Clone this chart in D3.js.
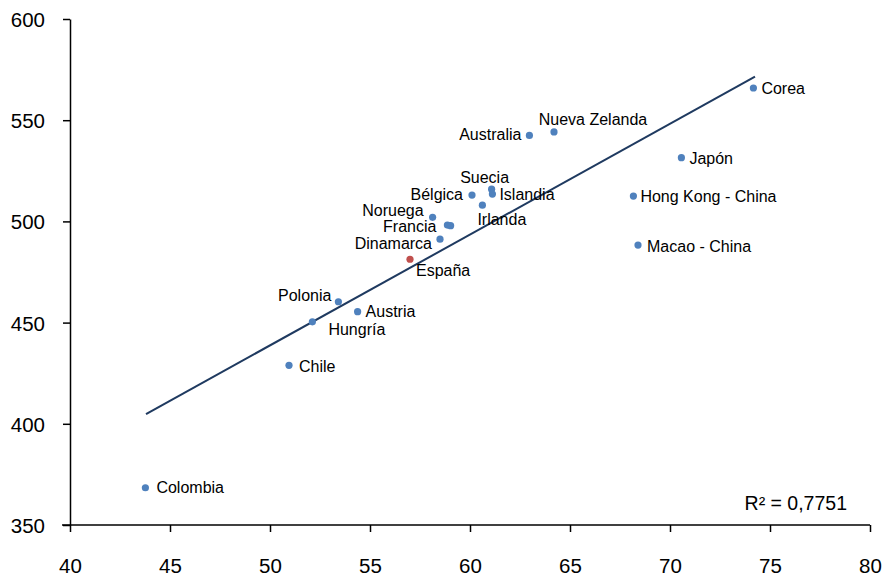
<!DOCTYPE html>
<html><head><meta charset="utf-8">
<script src="https://cdn.jsdelivr.net/npm/d3@7"></script>
<style>body{margin:0;background:#fff}svg{display:block}</style>
</head><body><svg id="c" width="887" height="580"></svg>
<script>
const countries = ["Colombia","Chile","Hungría","Polonia","Austria","España","Dinamarca","Francia","","Noruega","Bélgica","Irlanda","Suecia","Islandia","Australia","Nueva Zelanda","Macao - China","Hong Kong - China","Japón","Corea"];
const xValues = [43.77,50.95,52.12,53.42,54.38,57.0,58.5,58.87,59.03,58.13,60.1,60.62,61.08,61.12,62.97,64.2,68.4,68.17,70.57,74.17];
const yValues = [368.4,428.9,450.4,460.3,455.4,481.3,491.2,498.2,497.9,502.0,513.0,508.0,515.9,513.5,542.5,544.2,488.3,512.5,531.5,565.9];
const highlight = ["España"];
const trendX = [43.8,74.25];
const trendY = [404.8,571.5];
const xTicks = [40,45,50,55,60,65,70,75,80];
const yTicks = [350,400,450,500,550,600];
const r2Label = "R² = 0,7751";

// label placement (pixel offsets from the point), kept apart from data
const placement = {
  "Colombia":[11,0,"start"],"Chile":[10,1,"start"],"Hungría":[16,8,"start"],
  "Polonia":[-7,-6,"end"],"Austria":[8,0,"start"],"España":[6,11,"start"],
  "Dinamarca":[-8,4,"end"],"Francia":[-11,1,"end"],"Noruega":[-9,-7,"end"],
  "Bélgica":[-9,-1,"end"],"Irlanda":[-5,14,"start"],"Suecia":[-7,-12,"middle"],
  "Islandia":[7,0,"start"],"Australia":[-8,-1,"end"],"Nueva Zelanda":[39,-12,"middle"],
  "Macao - China":[9,1,"start"],"Hong Kong - China":[7,0,"start"],"Japón":[8,1,"start"],
  "Corea":[8,0,"start"]
};

const svg = d3.select("#c");
const x = d3.scaleLinear().domain([40,80]).range([70,870]);
const y = d3.scaleLinear().domain([350,600]).range([525,19]);
const font = "'Liberation Sans', Arial, sans-serif";

// axes
const xAxis = d3.axisBottom(x).tickValues(xTicks).tickSize(7).tickSizeOuter(0);
const yAxis = d3.axisLeft(y).tickValues(yTicks).tickSize(7).tickSizeOuter(0).tickPadding(18);
const gx = svg.append("g").attr("transform","translate(0,525)").call(xAxis);
const gy = svg.append("g").attr("transform","translate(70,0)").call(yAxis);
[gx,gy].forEach(g=>{
  g.selectAll("path.domain").attr("stroke","#000").attr("stroke-width",1.5);
  g.selectAll(".tick line").attr("stroke","#000").attr("stroke-width",1.5);
  g.selectAll(".tick text").attr("font-family",font).attr("font-size","20.5px").attr("fill","#000");
});
gx.select("path.domain").attr("d","M62,0H870");
gx.selectAll(".tick text").attr("y",40).attr("dy",null).attr("dominant-baseline","central");
gy.selectAll(".tick text").attr("dy",null).attr("dominant-baseline","central");

// trendline
svg.append("line")
  .attr("x1",x(trendX[0])).attr("y1",y(trendY[0]))
  .attr("x2",x(trendX[1])).attr("y2",y(trendY[1]))
  .attr("stroke","#1f3a60").attr("stroke-width",2);

// points
const pts = countries.map((c,i)=>({c,x:xValues[i],y:yValues[i]}));
svg.append("g").selectAll("circle").data(pts).join("circle")
  .attr("cx",d=>x(d.x)).attr("cy",d=>y(d.y)).attr("r",3.6)
  .attr("fill",d=>highlight.includes(d.c)?"#c0504d":"#4f81bd");

// labels
svg.append("g").selectAll("text").data(pts.filter(d=>d.c)).join("text")
  .attr("x",d=>x(d.x)+placement[d.c][0])
  .attr("y",d=>y(d.y)+placement[d.c][1])
  .attr("text-anchor",d=>placement[d.c][2])
  .attr("dominant-baseline","central")
  .attr("font-family",font).attr("font-size","16px").attr("fill","#000")
  .text(d=>d.c);

svg.append("text").attr("x",847).attr("y",503).attr("text-anchor","end")
  .attr("dominant-baseline","central")
  .attr("font-family",font).attr("font-size","19.5px").attr("fill","#000").text(r2Label);
</script></body></html>
